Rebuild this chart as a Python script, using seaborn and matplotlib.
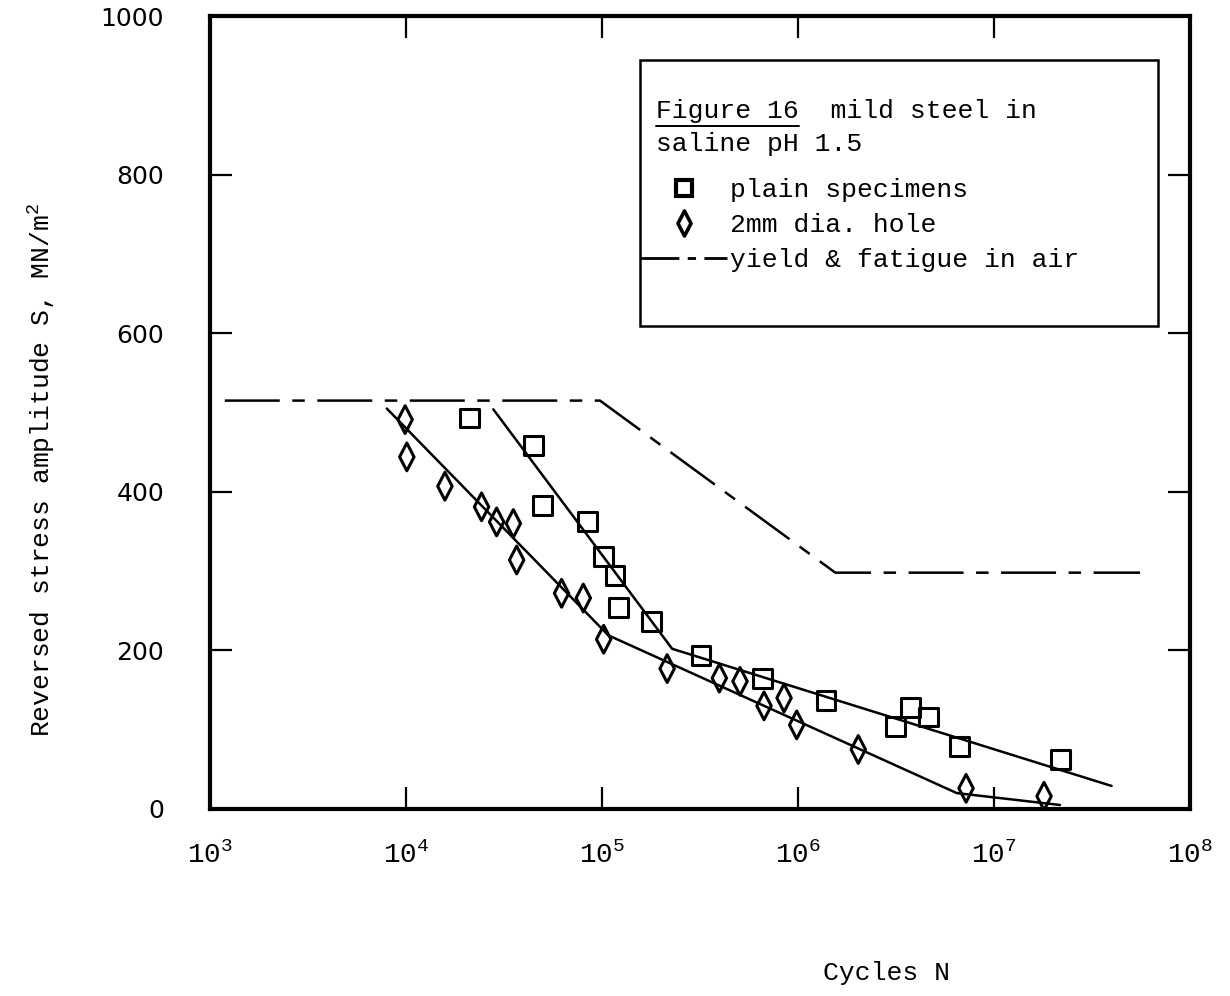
import matplotlib
matplotlib.use("Agg")
import matplotlib.pyplot as plt
import seaborn as sns
import pandas as pd
from matplotlib.path import Path
from matplotlib.lines import Line2D
from matplotlib.patches import Rectangle
from matplotlib.ticker import LogFormatterSciNotation, NullLocator, FixedLocator

# ---- data: fatigue of mild steel in saline pH 1.5 ----
plain_cycles = [2.12e4, 4.47e4, 4.95e4, 8.45e4, 1.016e5, 1.165e5, 1.21e5, 1.79e5,
                3.2e5, 6.6e5, 1.39e6, 3.16e6, 3.73e6, 4.62e6, 6.65e6, 2.19e7]
plain_stress = [493, 458, 383, 362, 318, 294, 254, 236,
                193, 165, 137, 104, 128, 116, 79, 62]

hole_cycles = [9.9e3, 1.01e4, 1.58e4, 2.43e4, 2.9e4, 3.53e4, 3.67e4, 6.22e4, 8.03e4,
               1.02e5, 2.15e5, 3.97e5, 5.06e5, 6.71e5, 8.49e5, 9.85e5, 2.03e6, 7.2e6, 1.8e7]
hole_stress = [491, 444, 407, 381, 362, 360, 314, 272, 266,
               214, 177, 165, 161, 130, 140, 106, 75, 26, 16]

# fitted S-N curves
plain_fit_cycles = [2.79e4, 2.28e5, 3.98e7]
plain_fit_stress = [504, 202, 29]
hole_fit_cycles = [7.98e3, 1.077e5, 6.46e6, 2.17e7]
hole_fit_stress = [505, 219, 20, 5]

# yield & fatigue limit in air
air_cycles = [1.19e3, 9.77e4, 1.55e6, 5.56e7]
air_stress = [515, 515, 298, 298]

x_ticks = [1e3, 1e4, 1e5, 1e6, 1e7, 1e8]
y_ticks = [0, 200, 400, 600, 800, 1000]

legend_title = " Figure 16  mild steel in\n saline pH 1.5"
legend_labels = ["plain specimens", "2mm dia. hole", "yield & fatigue in air"]

# ---- style ----
sns.set_theme(style="white")
plt.rcParams["font.family"] = ["Liberation Mono", "DejaVu Sans Mono"]
for key in ("text.color", "axes.labelcolor", "xtick.color", "ytick.color",
            "axes.edgecolor"):
    plt.rcParams[key] = "black"
mono = "Liberation Mono"
sans = "DejaVu Sans"

fig = plt.figure(figsize=(12.3, 9.96), dpi=100)
ax = fig.add_axes([0.1707, 0.1878, 0.7968, 0.7961])

# tall, narrow open diamond
diamond = Path([(0, 1), (0.52, 0), (0, -1), (-0.52, 0), (0, 1)], closed=True)
dash_dot = (0, (22, 5, 5, 5))

plain_df = pd.DataFrame({"N": plain_cycles, "S": plain_stress})
hole_df = pd.DataFrame({"N": hole_cycles, "S": hole_stress})

sns.lineplot(x=plain_fit_cycles, y=plain_fit_stress, ax=ax, sort=False, estimator=None,
             color="black", linewidth=1.8)
sns.lineplot(x=hole_fit_cycles, y=hole_fit_stress, ax=ax, sort=False, estimator=None,
             color="black", linewidth=1.8)
sns.lineplot(x=air_cycles, y=air_stress, ax=ax, sort=False, estimator=None,
             color="black", linewidth=1.8, linestyle=dash_dot)

sns.scatterplot(data=plain_df, x="N", y="S", ax=ax, marker="s", s=185,
                facecolor="none", edgecolor="black", linewidth=2.2, zorder=3)
sns.scatterplot(data=hole_df, x="N", y="S", ax=ax, marker=diamond, s=400,
                facecolor="none", edgecolor="black", linewidth=2.2, zorder=3)

# ---- axes ----
ax.set_xscale("log")
ax.set_xlim(1e3, 1e8)
ax.set_ylim(0, 1000)
ax.xaxis.set_major_locator(FixedLocator(x_ticks))
ax.xaxis.set_minor_locator(NullLocator())
ax.xaxis.set_major_formatter(LogFormatterSciNotation())
ax.yaxis.set_major_locator(FixedLocator(y_ticks))
ax.grid(False)

for sp in ax.spines.values():
    sp.set_linewidth(3.0)
    sp.set_color("black")

ax.tick_params(axis="both", which="major", direction="in", length=16, width=1.6,
               color="black", top=True, bottom=True, left=True, right=True)
ax.tick_params(axis="y", pad=33, labelsize=18, labelcolor="black")
ax.tick_params(axis="x", pad=24, labelsize=20, labelcolor="black")
for lab in ax.get_yticklabels():
    lab.set_fontfamily(sans)
for lab in ax.get_xticklabels():
    lab.set_fontfamily(mono)

ax.set_xlabel("Cycles N", fontsize=19, fontfamily=mono, color="black")
ax.set_ylabel(r"Reversed stress amplitude S, MN/m$\mathdefault{^2}$", fontsize=19,
              fontfamily=mono, color="black")
ax.xaxis.set_label_coords(0.69, -0.192)
ax.yaxis.set_label_coords(-0.156, 0.428)

# ---- legend ----
handles = [
    Line2D([], [], marker="s", linestyle="none", markerfacecolor="none",
           markeredgecolor="black", markeredgewidth=3.0, markersize=12),
    Line2D([], [], marker=diamond, linestyle="none", markerfacecolor="none",
           markeredgecolor="black", markeredgewidth=2.6, markersize=18),
    Line2D([], [], color="black", linewidth=2.0, linestyle=(0, (14, 3, 3, 3))),
]
leg = ax.legend(handles, legend_labels, title=legend_title, loc="upper left",
                bbox_to_anchor=(0.4388, 0.895), frameon=False, borderpad=0,
                borderaxespad=0, handlelength=3.3, handletextpad=0.1,
                labelspacing=0.42, alignment="left",
                prop={"family": mono, "size": 19},
                title_fontproperties={"family": mono, "size": 19})
leg.get_title().set_linespacing(1.45)
leg.get_title().set_color("black")
for t in leg.get_texts():
    t.set_color("black")
# a little more room between the heading and the entries
leg._legend_box.sep = 0.42 * 19 + 8

ax.add_patch(Rectangle((0.4388, 0.6091), 0.5286, 0.3354, transform=ax.transAxes,
                       fill=False, edgecolor="black", linewidth=1.8, zorder=4))

# underline "Figure 16" in the legend heading
fig.canvas.draw()
renderer = fig.canvas.get_renderer()
title_txt = leg.get_title()
bb = title_txt.get_window_extent(renderer)
first_line = legend_title.split("\n")[0]
cw = bb.width / len(first_line)
fs_px = title_txt.get_fontsize() * fig.dpi / 72
y_ul = bb.y1 - 1.0 * fs_px
x0 = bb.x0 + 1 * cw
x1 = bb.x0 + 10 * cw
(p0, p1) = fig.transFigure.inverted().transform([(x0, y_ul), (x1, y_ul)])
fig.add_artist(Line2D([p0[0], p1[0]], [p0[1], p1[1]], transform=fig.transFigure,
                      color="black", linewidth=1.4))

fig.savefig("out.png", dpi=100)
